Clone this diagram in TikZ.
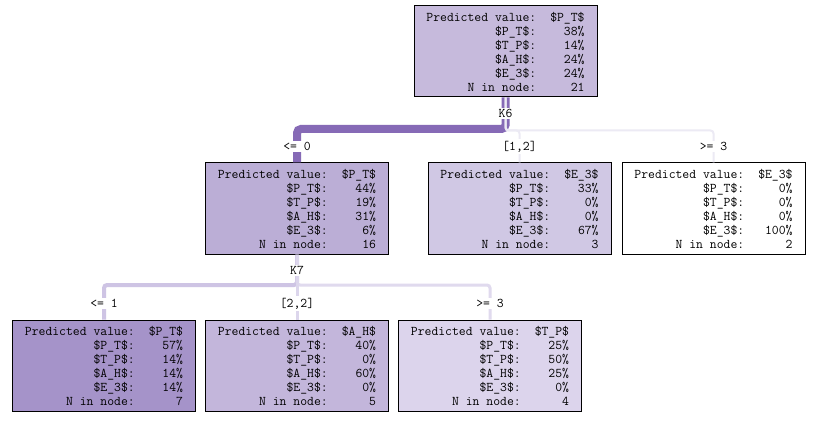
\documentclass[tikz,border=0pt]{standalone}
\usepackage{fontspec}
\definecolor{thickp}{RGB}{134,106,182}
\definecolor{lightl}{RGB}{236,234,244}
\definecolor{l2a}{RGB}{206,196,228}
\definecolor{l2b}{RGB}{220,214,236}
\definecolor{l2c}{RGB}{224,218,238}
\definecolor{froot}{RGB}{198,186,220}
\definecolor{fa}{RGB}{187,174,214}
\definecolor{fb}{RGB}{208,200,228}
\definecolor{fc}{RGB}{255,255,255}
\definecolor{fd}{RGB}{165,147,201}
\definecolor{fe}{RGB}{195,182,219}
\definecolor{ff}{RGB}{220,212,236}
\newcommand{\treefont}{\ttfamily\fontsize{13.33}{14}\selectfont}
\newcommand{\treetext}[6]{\treefont
\raisebox{-2pt}[\height][\depth]{\begin{tabular}{@{}r@{\hspace{14pt}}r@{}}
Predicted value: & \$#1\$\\
\$P\_T\$: & #2\%\\
\$T\_P\$: & #3\%\\
\$A\_H\$: & #4\%\\
\$E\_3\$: & #5\%\\
N in node: & #6
\end{tabular}}}
\begin{document}
\begin{tikzpicture}[x=1pt,y=-1pt,
  tbox/.style={draw=black,line width=1pt,minimum width=183pt,minimum height=91pt,inner sep=0pt,align=center},
  elab/.style={fill=white,inner sep=1.5pt,font=\treefont}]
\useasboundingbox (0,0) rectangle (816,422);
\fill[white] (0,0) rectangle (816,422);
% nodes
\node[tbox,fill=froot] (root) at (505.5,51.5) {\treetext{P\_T}{38}{14}{24}{24}{21}};
\node[tbox,fill=fa] (c1) at (297,208.5) {\treetext{P\_T}{44}{19}{31}{6}{16}};
\node[tbox,fill=fb] (c2) at (519.5,208.5) {\treetext{E\_3}{33}{0}{0}{67}{3}};
\node[tbox,fill=fc] (c3) at (713.5,208.5) {\treetext{E\_3}{0}{0}{0}{100}{2}};
\node[tbox,fill=fd] (d1) at (104,365.5) {\treetext{P\_T}{57}{14}{14}{14}{7}};
\node[tbox,fill=fe] (d2) at (297,365.5) {\treetext{A\_H}{40}{0}{60}{0}{5}};
\node[tbox,fill=ff] (d3) at (490,365.5) {\treetext{T\_P}{25}{50}{25}{0}{4}};
% connectors level 1
\coordinate (b6) at (505.5,129);
\coordinate (b6l) at (505.5,130.5);
\draw[thickp,line width=8pt,rounded corners=4pt] (root.south) -- (b6) -| (c1.north);
\draw[lightl,line width=2pt,rounded corners=3pt] (root.south) -- (b6l) -| (c2.north);
\draw[lightl,line width=2pt,rounded corners=3pt] (root.south) -- (b6l) -| (c3.north);
% connectors level 2
\coordinate (b7) at (297,285);
\draw[l2a,line width=4pt,rounded corners=3pt] (c1.south) -- (b7) -| (d1.north);
\draw[l2c,line width=3pt,rounded corners=3pt] (c1.south) -- (b7) -| (d3.north);
\draw[l2b,line width=3pt] (c1.south) -- (d2.north);
% labels
\node[elab] (k6) at (505.5,113.5) {K6};
\node[elab] (e1) at (297,146.5) {<= 0};
\node[elab] (e2) at (519.5,146.5) {[1,2]};
\node[elab] (e3) at (713.5,146.5) {>= 3};
\node[elab] (k7) at (297,270.5) {K7};
\node[elab] (e4) at (104,303.5) {<= 1};
\node[elab] (e5) at (297,303.5) {[2,2]};
\node[elab] (e6) at (490,303.5) {>= 3};
\end{tikzpicture}
\end{document}
